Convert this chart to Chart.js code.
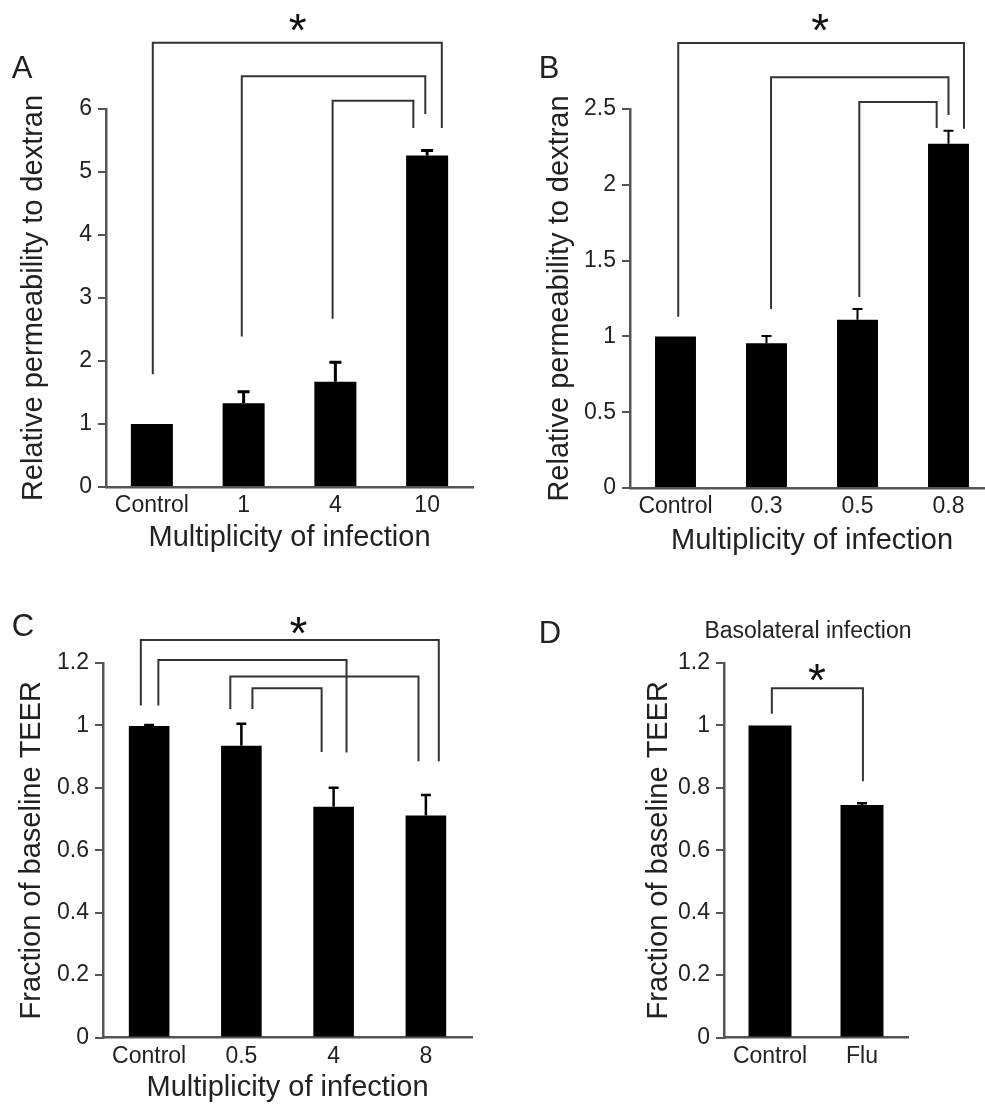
<!DOCTYPE html>
<html>
<head>
<meta charset="utf-8">
<script src="https://cdn.jsdelivr.net/npm/chart.js@4.4.1/dist/chart.umd.min.js"></script>
<style>
  html, body { margin: 0; padding: 0; background: #fff; overflow: hidden; width: 985px; height: 1106px; }
  canvas { position: absolute; }
</style>
</head>
<body>
<canvas id="cA" width="490" height="560" style="left:0;top:0"></canvas>
<canvas id="cB" width="510" height="560" style="left:490px;top:0"></canvas>
<canvas id="cC" width="490" height="546" style="left:0;top:560px"></canvas>
<canvas id="cD" width="495" height="546" style="left:490px;top:560px"></canvas>
<script>
// ===== data =====
// A: permeability, apical MOI
const catsA = ['Control', '1', '4', '10'];
const meanA = [1.0, 1.33, 1.67, 5.26];
const errA = [0, 0.18, 0.31, 0.08];
// brackets: [x from, y from, x to, y to, top]  (x = category position, y = axis value)
const bracketsA = [[0.01, 1.79, 3.16, 5.70, 7.05], [0.98, 2.39, 2.98, 5.92, 6.52], [1.97, 2.67, 2.85, 5.70, 6.13]];
const starA = [1.59, 7.38];
const ticksA = { min: 0, max: 6, step: 1 };

// B: permeability, lower MOI
const catsB = ['Control', '0.3', '0.5', '0.8'];
const meanB = [1.0, 0.955, 1.11, 2.27];
const errB = [0, 0.048, 0.07, 0.086];
const bracketsB = [[0.03, 1.13, 3.17, 2.37, 2.935], [1.05, 1.18, 3.0, 2.46, 2.71], [2.02, 1.26, 2.87, 2.375, 2.546]];
const starB = [1.59, 3.07];
const ticksB = { min: 0, max: 2.5, step: 0.5 };

// C: TEER, MOI
const catsC = ['Control', '0.5', '4', '8'];
const meanC = [0.998, 0.935, 0.739, 0.711];
const errC = [0.003, 0.07, 0.061, 0.066];
const bracketsC = [[-0.09, 1.064, 3.14, 0.885, 1.274], [0.10, 1.064, 2.14, 0.913, 1.21], [0.88, 1.053, 2.92, 0.885, 1.157], [1.12, 1.053, 1.87, 0.915, 1.119]];
const starC = [1.62, 1.32];
const ticksC = { min: 0, max: 1.2, step: 0.2 };

// D: TEER, basolateral infection
const catsD = ['Control', 'Flu'];
const meanD = [1.0, 0.745];
const errD = [0, 0.006];
const bracketsD = [[0.02, 1.037, 1.01, 0.821, 1.119]];
const starD = [0.51, 1.171];
const ticksD = { min: 0, max: 1.2, step: 0.2 };

const FONT = "'Liberation Sans', Arial, Helvetica, sans-serif";
const TEXT = '#222';
const AXIS = '#555';

Chart.defaults.font.family = FONT;
Chart.defaults.color = TEXT;

// draw a glyph centred on (x, y)
function centredText(ctx, s, x, y) {
  const m = ctx.measureText(s);
  ctx.textAlign = 'center';
  ctx.textBaseline = 'alphabetic';
  ctx.fillText(s, x, y + (m.actualBoundingBoxAscent - m.actualBoundingBoxDescent) / 2);
}

// error bars, significance brackets, asterisk, panel letter, small heading
function marksPlugin(p) {
  return {
    id: 'marks',
    afterDatasetsDraw(chart) {
      const { ctx, scales: { x, y } } = chart;
      ctx.save();

      // upper error bars only
      ctx.strokeStyle = '#000';
      ctx.lineWidth = p.errWidth;
      p.means.forEach((m, i) => {
        const e = p.errors[i];
        if (!e) return;
        const px = x.getPixelForValue(i);
        const y0 = y.getPixelForValue(m);
        const y1 = y.getPixelForValue(m + e);
        ctx.beginPath();
        ctx.moveTo(px, y0);
        ctx.lineTo(px, y1);
        ctx.moveTo(px - p.cap, y1);
        ctx.lineTo(px + p.cap, y1);
        ctx.stroke();
      });

      // brackets
      ctx.strokeStyle = '#333';
      ctx.lineWidth = 2;
      ctx.lineJoin = 'miter';
      p.brackets.forEach(([x0, y0, x1, y1, top]) => {
        const X0 = x.getPixelForValue(x0);
        const X1 = x.getPixelForValue(x1);
        const T = y.getPixelForValue(top);
        ctx.beginPath();
        ctx.moveTo(X0, y.getPixelForValue(y0));
        ctx.lineTo(X0, T);
        ctx.lineTo(X1, T);
        ctx.lineTo(X1, y.getPixelForValue(y1));
        ctx.stroke();
      });

      // asterisk
      ctx.fillStyle = '#111';
      ctx.font = '46px ' + FONT;
      centredText(ctx, '*', x.getPixelForValue(p.star[0]), y.getPixelForValue(p.star[1]));

      // panel letter
      ctx.fillStyle = TEXT;
      ctx.font = '31px ' + FONT;
      centredText(ctx, p.letter, p.letterAt[0], p.letterAt[1]);

      // heading above the plot (panel D)
      if (p.heading) {
        ctx.font = '23px ' + FONT;
        ctx.textAlign = 'center';
        ctx.textBaseline = 'middle';
        ctx.fillText(p.heading, p.headingAt[0], p.headingAt[1]);
      }

      ctx.restore();
    }
  };
}

function makePanel(id, p) {
  const ctx = document.getElementById(id).getContext('2d');
  return new Chart(ctx, {
    type: 'bar',
    data: {
      labels: p.cats,
      datasets: [{
        data: p.means,
        backgroundColor: '#000',
        borderWidth: 0,
        categoryPercentage: 1,
        barPercentage: p.barPct
      }]
    },
    options: {
      responsive: false,
      animation: false,
      events: [],
      layout: { padding: p.pad },
      plugins: {
        legend: { display: false },
        tooltip: { enabled: false },
        title: { display: false }
      },
      scales: {
        x: {
          grid: { display: false, drawTicks: false },
          border: { display: true, color: AXIS, width: 2.5 },
          ticks: { color: TEXT, font: { size: 23 }, padding: 5, maxRotation: 0 },
          title: p.xTitle ? {
            display: true,
            text: p.xTitle,
            color: TEXT,
            font: { size: 29 },
            padding: { top: 0, bottom: p.xTitlePad }
          } : { display: false },
          afterFit: (s) => { s.height = p.xHeight; }
        },
        y: {
          min: p.ticks.min,
          max: p.ticks.max,
          grid: { display: true, drawOnChartArea: false, drawTicks: true, tickLength: 8, color: AXIS, lineWidth: 2 },
          border: { display: true, color: AXIS, width: 2.5 },
          ticks: {
            stepSize: p.ticks.step,
            color: TEXT,
            font: { size: 23 },
            padding: 6,
            callback: (v) => String(Math.round(v * 10) / 10)
          },
          title: {
            display: true,
            text: p.yTitle,
            color: TEXT,
            font: { size: 29 },
            padding: { top: p.yTitlePad, bottom: 0 }
          },
          afterFit: (s) => { s.width = p.yWidth; }
        }
      }
    },
    plugins: [marksPlugin(p)]
  });
}

makePanel('cA', {
  cats: catsA, means: meanA, errors: errA, brackets: bracketsA, star: starA, ticks: ticksA,
  barPct: 0.458, errWidth: 3, cap: 6,
  letter: 'A', letterAt: [22, 67],
  yTitle: 'Relative permeability to dextran', xTitle: 'Multiplicity of infection',
  pad: { left: 0, right: 17, top: 109, bottom: 0 }, yWidth: 106, xHeight: 73,
  yTitlePad: 17, xTitlePad: 5
});

makePanel('cB', {
  cats: catsB, means: meanB, errors: errB, brackets: bracketsB, star: starB, ticks: ticksB,
  barPct: 0.45, errWidth: 2, cap: 5,
  letter: 'B', letterAt: [59, 67],
  yTitle: 'Relative permeability to dextran', xTitle: 'Multiplicity of infection',
  pad: { left: 0, right: 6, top: 109, bottom: 0 }, yWidth: 140, xHeight: 72,
  yTitlePad: 53, xTitlePad: 2
});

makePanel('cC', {
  cats: catsC, means: meanC, errors: errC, brackets: bracketsC, star: starC, ticks: ticksC,
  barPct: 0.44, errWidth: 2.5, cap: 5,
  letter: 'C', letterAt: [23, 65],
  yTitle: 'Fraction of baseline TEER', xTitle: 'Multiplicity of infection',
  pad: { left: 0, right: 18, top: 103, bottom: 0 }, yWidth: 103, xHeight: 68.5,
  yTitlePad: 15, xTitlePad: 1
});

makePanel('cD', {
  cats: catsD, means: meanD, errors: errD, brackets: bracketsD, star: starD, ticks: ticksD,
  barPct: 0.467, errWidth: 2.5, cap: 5,
  letter: 'D', letterAt: [60, 72],
  heading: 'Basolateral infection', headingAt: [318, 72],
  yTitle: 'Fraction of baseline TEER', xTitle: null,
  pad: { left: 150, right: 77, top: 103, bottom: 0 }, yWidth: 84, xHeight: 68.5,
  yTitlePad: 2, xTitlePad: 0
});
</script>
</body>
</html>
